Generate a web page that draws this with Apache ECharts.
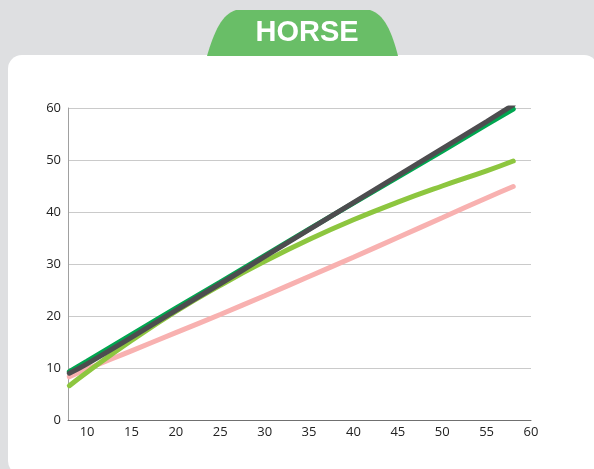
<!DOCTYPE html>
<html>
<head>
<meta charset="utf-8">
<script src="https://cdn.jsdelivr.net/npm/echarts@6/dist/echarts.min.js"></script>
<style>
  html, body { margin: 0; padding: 0; background: #dedfe1; }
  #chart { width: 594px; height: 469px; }
</style>
</head>
<body>
<div id="chart"></div>
<script>
// x positions of the sampled points
var xValues = [8, 10, 15, 20, 25, 30, 35, 40, 45, 50, 55, 58];
// series values
var pinkLine  = [8.3, 9.8, 13.3, 16.8, 20.3, 23.9, 27.6, 31.3, 35.1, 38.9, 42.7, 44.9];
var lightLine = [6.6, 9.2, 15.3, 20.9, 25.9, 30.5, 34.7, 38.5, 41.9, 45.0, 47.9, 49.8];
var greenLine = [9.3, 11.3, 16.4, 21.5, 26.5, 31.6, 36.7, 41.7, 46.7, 51.7, 56.8, 59.8];
var grayLine  = [9.0, 10.8, 15.9, 21.1, 26.2, 31.4, 36.6, 41.8, 47.0, 52.2, 57.4, 60.6];
var xTicks = [10, 15, 20, 25, 30, 35, 40, 45, 50, 55, 60];

function pairs(ys) {
  return xValues.map(function (x, i) { return [x, ys[i]]; });
}

function lineSeries(ys, color, z) {
  return {
    type: "line",
    data: pairs(ys),
    smooth: 0.5,
    symbol: "none",
    z: z,
    lineStyle: { width: 5, color: color, cap: "round" }
  };
}

// tab outline: two cubic sides joined by a flat top
function cubic(p0, p1, p2, p3, n) {
  var out = [];
  for (var i = 0; i <= n; i++) {
    var t = i / n, u = 1 - t;
    out.push([
      u * u * u * p0[0] + 3 * u * u * t * p1[0] + 3 * u * t * t * p2[0] + t * t * t * p3[0],
      u * u * u * p0[1] + 3 * u * u * t * p1[1] + 3 * u * t * t * p2[1] + t * t * t * p3[1]
    ]);
  }
  return out;
}
var tabPoints = cubic([207, 56], [214, 32], [222, 14], [236, 10], 16)
  .concat(cubic([370, 10], [384, 14], [392, 32], [398, 56], 16));

var chart = echarts.init(document.getElementById("chart"));
chart.setOption({
  backgroundColor: "#dedfe1",
  animation: false,
  graphic: {
    elements: [
      {
        type: "rect",
        z: -10,
        shape: { x: 8, y: 55, width: 590, height: 420, r: 14 },
        style: { fill: "#ffffff" }
      },
      {
        type: "polygon",
        z: -5,
        shape: { points: tabPoints },
        style: { fill: "#69be67" }
      },
      {
        type: "text",
        z: -4,
        x: 307,
        y: 33,
        style: {
          text: "HORSE",
          fill: "#ffffff",
          font: "bold 29px 'Liberation Sans', Arial, sans-serif",
          align: "center",
          verticalAlign: "middle"
        }
      }
    ]
  },
  grid: { left: 68, right: 63, top: 108, bottom: 49 },
  xAxis: {
    type: "value",
    min: 7.85,
    max: 60,
    axisLine: { show: true, lineStyle: { color: "#707070", width: 1 } },
    axisTick: { show: false },
    splitLine: { show: false },
    axisLabel: {
      customValues: xTicks,
      color: "#222",
      fontSize: 13,
      fontFamily: "Open Sans",
      margin: 6
    }
  },
  yAxis: {
    type: "value",
    min: 0,
    max: 60,
    interval: 10,
    axisLine: { show: true, lineStyle: { color: "#a0a0a0", width: 1 } },
    axisTick: { show: false },
    splitLine: { lineStyle: { color: "#cacaca", width: 1 } },
    axisLabel: { color: "#222", fontSize: 13, fontFamily: "Open Sans", margin: 7 }
  },
  series: [
    lineSeries(pinkLine, "#f8b1b0", 2),
    lineSeries(lightLine, "#8dc63f", 3),
    lineSeries(greenLine, "#00a650", 4),
    lineSeries(grayLine, "#4d4d4f", 5)
  ]
});
</script>
</body>
</html>
